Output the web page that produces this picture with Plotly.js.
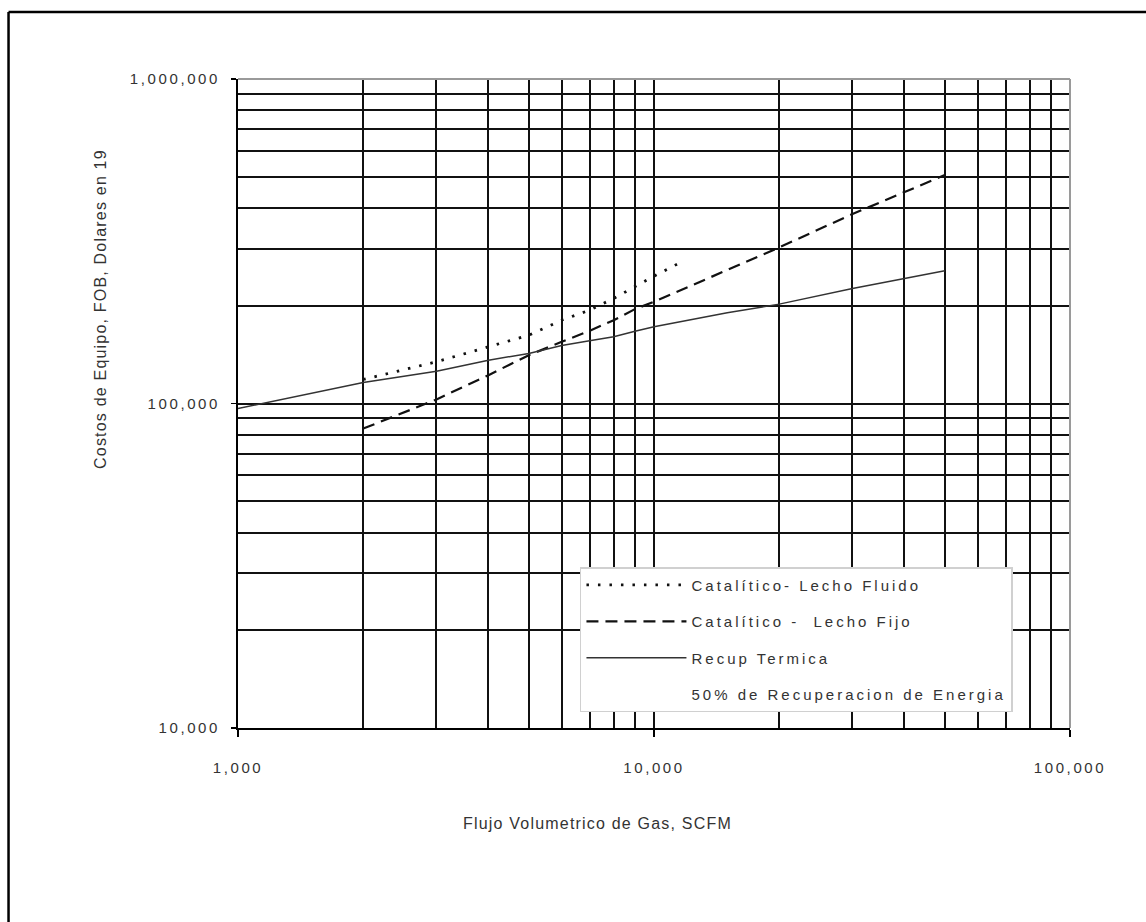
<!DOCTYPE html>
<html>
<head>
<meta charset="utf-8">
<script src="https://cdn.plot.ly/plotly-3.0.1.min.js"></script>
<style>
  html, body { margin: 0; padding: 0; background: #fff; }
  #chart { width: 1146px; height: 922px; }
  .xtick text, .ytick text { letter-spacing: 2.6px; }
  .legendtext { letter-spacing: 3px; }
  .annotation-text { letter-spacing: 1.2px; }
</style>
</head>
<body>
<div id="chart"></div>
<script>
// ---- data ----
const xFluido = [2000, 3000, 4000, 5000, 6000, 7000, 8000, 9000, 10000, 11870];
const yFluido = [118600, 134400, 149500, 162400, 180600, 194000, 210800, 229000, 246900, 276600];

const xFijo = [2000, 3000, 4000, 5000, 6000, 7000, 8000, 9000, 10000, 20000, 30000, 40000, 50000];
const yFijo = [83700, 102900, 122300, 140900, 154900, 167500, 180600, 195400, 205800, 302700, 383500, 449200, 505800];

const xRecup = [1000, 2000, 3000, 4000, 5000, 6000, 7000, 8000, 9000, 10000, 15000, 20000, 30000, 40000, 50000];
const yRecup = [96500, 116000, 125800, 136000, 142600, 151000, 156000, 160500, 167000, 172300, 190300, 202400, 226300, 242900, 256500];

const seriesNames = ["Catalítico- Lecho Fluido", "Catalítico -  Lecho Fijo", "Recup Termica", "50% de Recuperacion de Energia"];

const xTickVals = [1000, 10000, 100000];
const xTickText = ["1,000", "10,000", "100,000"];
const yTickVals = [10000, 100000, 1000000];
const yTickText = ["10,000", "100,000", "1,000,000"];

const xTitle = "Flujo Volumetrico de Gas, SCFM";
const yTitle = "Costos de Equipo, FOB, Dolares en 19";

// ---- minor grid positions (axis configuration) ----
function minorGrid(lo, hi) {
  const v = [];
  for (let d = lo; d < hi; d *= 10) for (let m = 2; m <= 9; m++) v.push(d * m);
  return v;
}

const FONT = "Liberation Sans, Arial, sans-serif";
const TXT = "#333";

const traces = [
  { x: xFluido, y: yFluido, name: seriesNames[0], legendgroup: "a", mode: "lines",
    line: { color: "#111", width: 2.8, dash: "2.5px,9px" } },
  { x: xFijo, y: yFijo, name: seriesNames[1], legendgroup: "b", mode: "lines",
    line: { color: "#111", width: 2.2, dash: "12px,7px" } },
  { x: xRecup, y: yRecup, name: seriesNames[2], legendgroup: "c", mode: "lines",
    line: { color: "#333", width: 1.5 } },
  { x: [null], y: [null], name: seriesNames[3], legendgroup: "d", mode: "lines",
    line: { color: "rgba(0,0,0,0)", width: 0 } }
];

const axisCommon = {
  type: "log",
  tickmode: "array",
  showgrid: true,
  gridcolor: "#111",
  gridwidth: 2,
  showline: true,
  linecolor: "#000",
  linewidth: 2,
  ticks: "outside",
  tickcolor: "#000",
  tickwidth: 1.5,
  zeroline: false,
  tickfont: { family: FONT, size: 15, color: TXT }
};

const layout = {
  width: 1146,
  height: 922,
  margin: { l: 238, r: 76, t: 79, b: 194 },
  paper_bgcolor: "#fff",
  plot_bgcolor: "#fff",
  showlegend: true,
  font: { family: FONT, color: TXT },
  xaxis: Object.assign({}, axisCommon, {
    range: [3, 5],
    tickvals: xTickVals,
    ticktext: xTickText,
    ticklen: 7,
    ticklabelstandoff: 18,
    minor: { tickmode: "array", tickvals: minorGrid(1000, 100000), showgrid: true,
             gridcolor: "#111", gridwidth: 2, ticks: "" }
  }),
  yaxis: Object.assign({}, axisCommon, {
    range: [4, 6],
    tickvals: yTickVals,
    ticktext: yTickText,
    ticklen: 5,
    ticklabelstandoff: 8,
    minor: { tickmode: "array", tickvals: minorGrid(10000, 1000000), showgrid: true,
             gridcolor: "#111", gridwidth: 2, ticks: "" }
  }),
  legend: {
    x: 0.411, y: 0.248, xanchor: "left", yanchor: "top",
    bgcolor: "#fff", bordercolor: "#d0d0d0", borderwidth: 1.5,
    font: { family: FONT, size: 15, color: TXT },
    tracegroupgap: 14,
    itemwidth: 100
  },
  annotations: [
    { text: xTitle, xref: "paper", yref: "paper", x: 0.4315, y: -0.1464,
      xanchor: "center", yanchor: "middle", showarrow: false,
      font: { family: FONT, size: 16, color: TXT } },
    { text: yTitle, xref: "paper", yref: "paper", x: -0.1659, y: 0.6456,
      xanchor: "center", yanchor: "middle", showarrow: false, textangle: -90,
      font: { family: FONT, size: 16, color: TXT } }
  ],
  shapes: [
    // light border on top and right of plotting area
    { type: "line", xref: "paper", yref: "paper", x0: 0, x1: 1, y0: 1, y1: 1,
      line: { color: "#9a9a9a", width: 2 } },
    { type: "line", xref: "paper", yref: "paper", x0: 1, x1: 1, y0: 0, y1: 1,
      line: { color: "#9a9a9a", width: 2 } },
    // outer frame (top and left edges of the figure)
    { type: "line", xref: "paper", yref: "paper", x0: -0.2758, x1: 1.1, y0: 1.1032, y1: 1.1032,
      line: { color: "#000", width: 2.5 } },
    { type: "line", xref: "paper", yref: "paper", x0: -0.2758, x1: -0.2758, y0: -0.31, y1: 1.1032,
      line: { color: "#000", width: 2.5 } }
  ]
};

Plotly.newPlot("chart", traces, layout, { displayModeBar: false, staticPlot: true });
</script>
</body>
</html>
